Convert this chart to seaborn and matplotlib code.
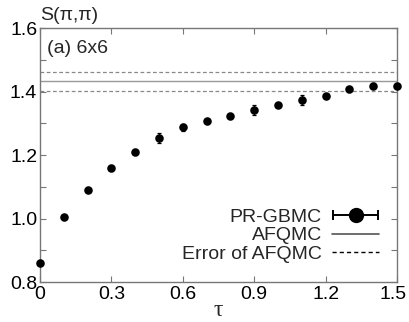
import numpy as np
import matplotlib
matplotlib.use("Agg")
from matplotlib import pyplot as plt
from matplotlib import transforms
from matplotlib.legend_handler import HandlerErrorbar
import seaborn as sns

tau = [0.0, 0.1, 0.2, 0.3, 0.4, 0.5, 0.6, 0.7, 0.8, 0.9, 1.0, 1.1, 1.2, 1.3, 1.4, 1.5]
s_pipi = [0.859, 1.005, 1.090, 1.158, 1.208, 1.253, 1.287, 1.307, 1.324, 1.342,
          1.358, 1.374, 1.386, 1.407, 1.418, 1.418]
s_err = [0.004, 0.004, 0.004, 0.004, 0.005, 0.015, 0.010, 0.005, 0.005, 0.015,
         0.006, 0.016, 0.006, 0.005, 0.008, 0.006]
afqmc = 1.432
afqmc_err = 0.030
x_ticks = [0, 0.3, 0.6, 0.9, 1.2, 1.5]
x_ticklabels = ["0", "0.3", "0.6", "0.9", "1.2", "1.5"]
y_ticks = [0.8, 1.0, 1.2, 1.4, 1.6]
y_ticklabels = ["0.8", "1.0", "1.2", "1.4", "1.6"]

sns.set_style("ticks")
plt.rcParams["font.family"] = ["Liberation Sans", "DejaVu Sans"]

fig = plt.figure(figsize=(4.09, 3.22), dpi=100)
ax = fig.add_axes([0.0978, 0.1242, 0.8729, 0.7888])

# AFQMC value and its error band
ax.axhline(afqmc, color="#999999", lw=1.0, zorder=1)
ax.axhline(afqmc + afqmc_err, color="#888888", lw=0.9, ls=(0, (3, 2)), zorder=1)
ax.axhline(afqmc - afqmc_err, color="#888888", lw=0.9, ls=(0, (3, 2)), zorder=1)

sns.scatterplot(x=tau, y=s_pipi, ax=ax, color="black", s=38, edgecolor="black",
                linewidth=0, zorder=3, clip_on=False, legend=False)
ax.errorbar(tau, s_pipi, yerr=s_err, fmt="none", ecolor="black", elinewidth=0.9,
            capsize=1.5, capthick=0.9, zorder=2)

# legend proxies
h1 = ax.errorbar([np.nan], [np.nan], xerr=[1], fmt="o", color="black", ms=10,
                 elinewidth=1.4, capsize=3.5, capthick=1.4)
h2, = ax.plot([], [], color="#555555", lw=1.2)
h3, = ax.plot([], [], color="black", lw=1.0, ls=(0, (3, 2.2)))
ax.legend([h1, h2, h3], ["PR-GBMC", "AFQMC", "Error of AFQMC"], loc="lower right",
          bbox_to_anchor=(0.95, 0.075), frameon=False, markerfirst=False,
          fontsize=14, handlelength=2.4, handletextpad=0.55, labelspacing=0.05,
          borderaxespad=0, borderpad=0,
          handler_map={type(h1): HandlerErrorbar(xerr_size=1.15)})

ax.set_xlim(0, 1.5)
ax.set_ylim(0.8, 1.6)
ax.set_xticks(x_ticks)
ax.set_xticklabels(x_ticklabels)
ax.set_yticks(y_ticks)
ax.set_yticklabels(y_ticklabels)
ax.set_yticks([0.9, 1.1, 1.3, 1.5], minor=True)
ax.tick_params(which="both", direction="in", top=True, right=True, color="#777777",
               labelsize=14, labelcolor="black")
ax.tick_params(which="major", length=4, width=0.8)
ax.tick_params(which="minor", length=4, width=0.8)
ax.tick_params(axis="x", pad=3)
ax.tick_params(axis="y", pad=2)
for sp in ax.spines.values():
    sp.set_color("#777777")
    sp.set_linewidth(1.0)

# keep the last x label inside the figure
last = ax.get_xticklabels()[-1]
last.set_transform(last.get_transform() +
                   transforms.ScaledTranslation(-3 / 72, 0, fig.dpi_scale_trans))

ax.set_xlabel("τ", fontsize=17, family=["Liberation Serif"], labelpad=-2)
ax.text(0.0, 1.015, "S(π,π)", transform=ax.transAxes, fontsize=14,
        ha="left", va="bottom")
ax.text(0.03, 1.537, "(a) 6x6", fontsize=14, ha="left", va="center")

fig.savefig("out.png", dpi=100)
